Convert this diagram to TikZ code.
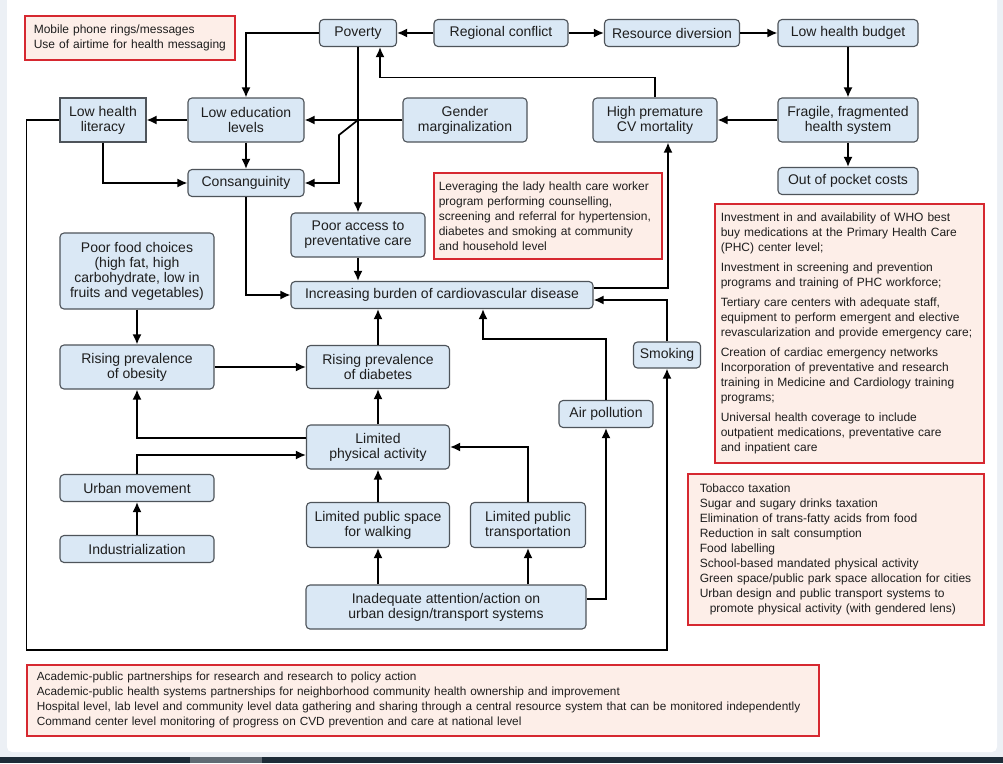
\documentclass[tikz,border=0pt]{standalone}
\usepackage{fontspec}
\setmainfont{Liberation Sans}
\usepackage{tikz}
\usetikzlibrary{positioning,arrows.meta}

\definecolor{boxfill}{RGB}{218,232,245}
\definecolor{boxline}{RGB}{78,84,90}
\definecolor{notefill}{RGB}{253,238,232}
\definecolor{notered}{RGB}{214,40,48}
\definecolor{inkgray}{RGB}{30,30,30}
\definecolor{pagegray}{RGB}{236,240,245}
\definecolor{bandblue}{RGB}{30,44,56}

\newcommand{\nohyph}{\hyphenpenalty=10000\relax}

\begin{document}
\begin{tikzpicture}[x=1pt, y=-1pt,
						% Styles for the blue cause boxes and the red action boxes
						box/.style={draw=boxline, fill=boxfill, rounded corners=4pt, line width=1.1pt, align=center, inner sep=0pt, text=inkgray, font=\fontsize{14}{15}\selectfont},
						wh/.style 2 args={minimum width=#1, minimum height=#2},
						note/.style={draw=notered, fill=notefill, line width=1.6pt, align=left, anchor=north west, inner ysep=0pt, text=inkgray, font=\fontsize{12}{15}\selectfont\nohyph},
						arr/.style={line width=1.7pt, -{Latex[length=10pt,width=9pt]}}
						]
						
						% Page background
						\useasboundingbox (0,0) rectangle (1003,763);
						\fill[pagegray] (0,0) rectangle (1003,763);
						\fill[white, rounded corners=5pt] (7,-6) rectangle (997,752);
						\fill[bandblue] (0,757) rectangle (1003,763);
						\fill[bandblue!70!white] (190,757) rectangle (262,763);
						
						% Define and place your nodes
						\node[box, wh={77pt}{27pt}] (poverty) at (358,33) {Poverty};
						\node[box, wh={134pt}{27pt}] (regional) at (501,33) {Regional conflict};
						\node[box, wh={135pt}{27pt}] (resource) at (672,33) {Resource diversion};
						\node[box, wh={140pt}{27pt}] (budget) at (848,33) {Low health budget};
						\node[box, wh={86pt}{44pt}, sharp corners] (lowlit) at (103,120) {Low health\\literacy};
						\node[box, wh={116pt}{44pt}] (lowedu) at (246,120) {Low education\\levels};
						\node[box, wh={124pt}{44pt}] (gender) at (465,120) {Gender\\marginalization};
						\node[box, wh={124pt}{44pt}] (highcv) at (655,120) {High premature\\CV mortality};
						\node[box, wh={140pt}{44pt}] (fragile) at (848,120) {Fragile, fragmented\\health system};
						\node[box, wh={140pt}{27pt}] (pocket) at (848,181) {Out of pocket costs};
						\node[box, wh={116pt}{27pt}] (consang) at (246,183) {Consanguinity};
						\node[box, wh={134pt}{44pt}] (access) at (358,235) {Poor access to\\preventative care};
						\node[box, wh={302pt}{27pt}] (burden) at (442,295) {Increasing burden of cardiovascular disease};
						\node[box, wh={154pt}{76pt}] (food) at (137,271) {Poor food choices\\(high fat, high\\carbohydrate, low in\\fruits and vegetables)};
						\node[box, wh={154pt}{44pt}] (obesity) at (137,367) {Rising prevalence\\of obesity};
						\node[box, wh={143pt}{43pt}] (diabetes) at (378,367) {Rising prevalence\\of diabetes};
						\node[box, wh={67pt}{26pt}] (smoking) at (667,355) {Smoking};
						\node[box, wh={94pt}{27pt}] (air) at (606,414) {Air pollution};
						\node[box, wh={143pt}{44pt}] (physical) at (378,447) {Limited\\physical activity};
						\node[box, wh={154pt}{27pt}] (urban) at (137,488) {Urban movement};
						\node[box, wh={154pt}{27pt}] (industrial) at (137,549) {Industrialization};
						\node[box, wh={143pt}{45pt}] (space) at (378,525) {Limited public space\\for walking};
						\node[box, wh={115pt}{45pt}] (transport) at (528,525) {Limited public\\transportation};
						\node[box, wh={280pt}{44pt}] (inadequate) at (446,607) {Inadequate attention/action on\\urban design/transport systems};
						
						% Action boxes
						\node[note, text width=202pt, inner xsep=4pt, minimum height=44pt] (mobile) at (24,15) {\hspace*{5pt}Mobile phone rings/messages\\\hspace*{5pt}Use of airtime for health messaging};
						\node[note, text width=218pt, inner xsep=5pt, minimum height=86pt] (lady) at (433,172) {Leveraging the lady health care worker\\program performing counselling,\\screening and referral for hypertension,\\diabetes and smoking at community\\and household level};
						\node[note, text width=257pt, inner xsep=6pt, minimum height=259pt] (who) at (714,203) {Investment in and availability of WHO best\\buy medications at the Primary Health Care\\(PHC) center level;\\[5pt]Investment in screening and prevention\\programs and training of PHC workforce;\\[5pt]Tertiary care centers with adequate staff,\\equipment to perform emergent and elective\\revascularization and provide emergency care;\\[5pt]Creation of cardiac emergency networks\\Incorporation of preventative and research\\training in Medicine and Cardiology training\\programs;\\[5pt]Universal health coverage to include\\outpatient medications, preventative care\\and inpatient care};
						\node[note, text width=280pt, inner xsep=8pt, minimum height=151pt] (policy) at (687,473) {\hspace*{4pt}Tobacco taxation\\\hspace*{4pt}Sugar and sugary drinks taxation\\\hspace*{4pt}Elimination of trans-fatty acids from food\\\hspace*{4pt}Reduction in salt consumption\\\hspace*{4pt}Food labelling\\\hspace*{4pt}School-based mandated physical activity\\\hspace*{4pt}Green space/public park space allocation for cities\\\hspace*{4pt}Urban design and public transport systems to\\\hspace*{14pt}promote physical activity (with gendered lens)};
						\node[note, text width=788pt, inner xsep=2pt, minimum height=71pt, font=\fontsize{11.8}{15}\selectfont\nohyph] (partner) at (26,664) {\hspace*{8pt}Academic-public partnerships for research and research to policy action\\\hspace*{8pt}Academic-public health systems partnerships for neighborhood community health ownership and improvement\\\hspace*{8pt}Hospital level, lab level and community level data gathering and sharing through a central resource system that can be monitored independently\\\hspace*{8pt}Command center level monitoring of progress on CVD prevention and care at national level};
						
						% --- Draw the edges ---
						\coordinate (gj) at (poverty.south |- gender.west);
						\draw[arr] (regional) -- (poverty);
						\draw[arr] (regional) -- (resource);
						\draw[arr] (resource) -- (budget);
						\draw[arr] (budget) -- (fragile);
						\draw[arr] (fragile) -- (highcv);
						\draw[arr] (fragile) -- (pocket);
						\draw[arr] (highcv.north) -- ++(0,-20) -| ([xshift=22pt]poverty.south);
						\draw[arr] (poverty.west) -| (lowedu.north);
						\draw[arr] (poverty) -- (access);
						\draw[arr] (gender) -- (lowedu);
						\draw[arr] (gj) -- ++(-19,15) |- (consang.east);
						\draw[arr] (lowedu) -- (lowlit);
						\draw[arr] (lowedu) -- (consang);
						\draw[arr] (lowlit.south) |- (consang.west);
						\draw[arr] (lowlit.west) -- ++(-33,0) -- ++(0,530) -| (smoking.south);
						\draw[arr] (consang.south) |- (burden.west);
						\draw[arr] (access) -- (access |- burden.north);
						\draw[arr] (diabetes) -- (diabetes |- burden.south);
						\draw[arr] (air.north) -- ++(0,-61) -| ([xshift=41pt]burden.south);
						\draw[arr] (smoking.north) |- ([yshift=-5pt]burden.east);
						\draw[arr] ([yshift=7pt]burden.east) -| ([xshift=13pt]highcv.south);
						\draw[arr] (food) -- (obesity);
						\draw[arr] (obesity) -- (diabetes);
						\draw[arr] ([yshift=9pt]physical.west) -| (obesity.south);
						\draw[arr] (physical) -- (diabetes);
						\draw[arr] (urban.north) |- ([yshift=-8pt]physical.west);
						\draw[arr] (industrial) -- (urban);
						\draw[arr] (space) -- (physical);
						\draw[arr] (transport.north) |- (physical.east);
						\draw[arr] (inadequate.north -| space.south) -- (space.south);
						\draw[arr] (inadequate.north -| transport.south) -- (transport.south);
						\draw[arr] ([yshift=8pt]inadequate.east) -| (air.south);
					\end{tikzpicture}
\end{document}
